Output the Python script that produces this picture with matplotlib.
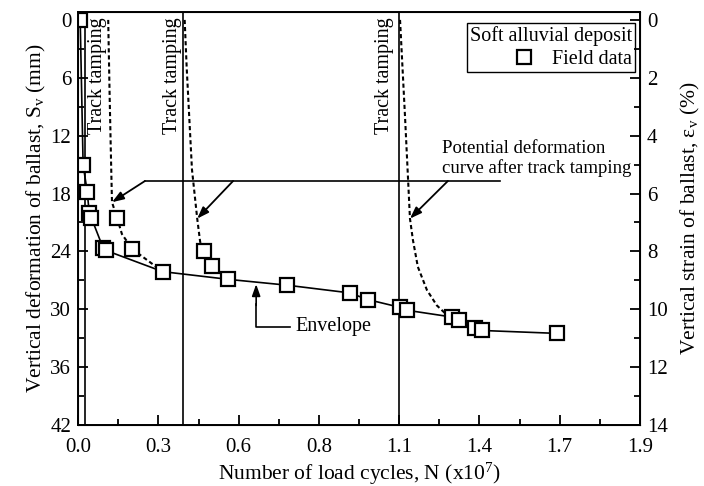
import numpy as np
import matplotlib
matplotlib.use("Agg")
import matplotlib.pyplot as plt
from matplotlib.ticker import FixedLocator, MultipleLocator

plt.rcParams["font.family"] = ["Liberation Serif", "DejaVu Serif"]
plt.rcParams["mathtext.fontset"] = "custom"
plt.rcParams["mathtext.rm"] = "Liberation Serif"
plt.rcParams["mathtext.it"] = "Liberation Serif:italic"

# ---------------------------------------------------------------------------
# Data (N in 1e7 cycles, Sv in mm)
# ---------------------------------------------------------------------------
field_n = [0.007, 0.017, 0.031, 0.038, 0.045, 0.085, 0.095, 0.133, 0.185, 0.29,
           0.432, 0.458, 0.515, 0.715, 0.93, 0.993, 1.103, 1.126, 1.28, 1.305,
           1.36, 1.385, 1.64]
field_sv = [0.0, 15.0, 17.8, 20.0, 20.5, 23.6, 23.9, 20.5, 23.75, 26.1,
            24.0, 25.5, 26.9, 27.5, 28.3, 29.0, 29.8, 30.1, 30.8, 31.1,
            31.9, 32.2, 32.5]

env_n = [0.007, 0.017, 0.031, 0.038, 0.045, 0.085, 0.095, 0.29, 0.515, 0.715,
         0.93, 0.993, 1.103, 1.126, 1.28, 1.305, 1.36, 1.385, 1.64]
env_sv = [0.0, 15.0, 17.8, 20.0, 20.5, 23.6, 23.9, 26.1, 26.9, 27.5,
          28.3, 29.0, 29.8, 30.1, 30.8, 31.1, 31.9, 32.2, 32.5]

# potential deformation curves after each tamping
pot1_n = [0.103, 0.108, 0.113, 0.116, 0.133, 0.15, 0.185, 0.29]
pot1_sv = [0.0, 8.0, 15.0, 18.9, 20.5, 22.2, 23.75, 26.1]
pot2_n = [0.365, 0.372, 0.39, 0.408, 0.418, 0.432]
pot2_sv = [0.0, 5.0, 15.5, 20.6, 23.0, 24.0]
pot3_n = [1.103, 1.12, 1.137, 1.147, 1.164, 1.195, 1.229, 1.264, 1.28]
pot3_sv = [0.0, 10.0, 20.6, 22.8, 25.6, 28.0, 29.6, 30.6, 30.8]

tamping_n = [0.024, 0.36, 1.099]
tamp_text_n = [0.068, 0.325, 1.051]
arrow_start_n = [0.229, 0.531, 1.267]
arrow_tip_n = [0.116, 0.408, 1.137]
arrow_tip_sv = [18.9, 20.6, 20.6]

x_ticks = [0.0, 0.275, 0.55, 0.825, 1.1, 1.375, 1.65, 1.925]
x_labels = ["0.0", "0.3", "0.6", "0.8", "1.1", "1.4", "1.7", "1.9"]

fig = plt.figure(figsize=(7.04, 4.86), dpi=100)
ax = fig.add_axes([0.111, 0.1255, 0.798, 0.850])

# vertical tamping lines
for xv in tamping_n:
    ax.axvline(xv, color="black", lw=1.2, zorder=1)

# envelope and potential curves
ax.plot(env_n, env_sv, color="black", lw=1.2, zorder=2)
for xs, ys in [(pot1_n, pot1_sv), (pot2_n, pot2_sv), (pot3_n, pot3_sv)]:
    ax.plot(xs, ys, color="black", lw=1.5, ls=(0, (2.0, 1.4)), zorder=2)

# field data
ax.plot(field_n, field_sv, ls="none", marker="s", ms=9.5, mfc="white",
        mec="black", mew=1.6, label="Field data", zorder=3)

# track tamping labels
for xt in tamp_text_n:
    ax.text(xt, -0.3, "Track tamping", rotation=90, ha="center", va="top",
            fontsize=14.5)

# potential deformation callout
y_call = 16.7
ax.plot([arrow_start_n[0], 1.445], [y_call, y_call], color="black", lw=1.2)
for xs, xt, yt in zip(arrow_start_n, arrow_tip_n, arrow_tip_sv):
    ax.annotate("", xy=(xt, yt), xytext=(xs, y_call),
                arrowprops=dict(arrowstyle="-|>,head_length=0.7,head_width=0.25",
                                color="black", lw=1.3, shrinkA=0, shrinkB=0))
ax.text(1.247, 16.3, "Potential deformation\ncurve after track tamping",
        ha="left", va="bottom", fontsize=13.5, linespacing=1.15)

# envelope callout
ax.plot([0.726, 0.61, 0.61], [31.8, 31.8, 29.5], color="black", lw=1.2)
ax.annotate("", xy=(0.61, 27.4), xytext=(0.61, 29.6),
            arrowprops=dict(arrowstyle="-|>,head_length=0.7,head_width=0.25",
                            color="black", lw=1.2, shrinkA=0, shrinkB=0))
ax.text(0.743, 31.8, "Envelope", ha="left", va="center", fontsize=14.5)

# axes
ax.set_xlim(0, 1.925)
ax.set_ylim(42, -0.83)
ax.xaxis.set_major_locator(FixedLocator(x_ticks))
ax.set_xticklabels(x_labels)
ax.xaxis.set_minor_locator(MultipleLocator(0.1375))
ax.yaxis.set_major_locator(MultipleLocator(6))
ax.yaxis.set_minor_locator(MultipleLocator(3))
ax.tick_params(which="both", direction="in", width=1.3, labelsize=15,
               top=False, right=False)
ax.tick_params(which="major", length=7)
ax.tick_params(which="minor", length=4)
ax.tick_params(axis="x", pad=9)
ax.tick_params(axis="y", pad=5)
ax.set_xlabel("Number of load cycles, N (x10$^7$)", fontsize=15.5, labelpad=3)
ax.set_ylabel("Vertical deformation of ballast, S$_\\mathrm{v}$ (mm)",
              fontsize=15.5, labelpad=2)
for sp in ax.spines.values():
    sp.set_linewidth(1.4)

ax2 = ax.twinx()
ax2.set_ylim(14, -0.83 / 3)
ax2.yaxis.set_major_locator(MultipleLocator(2))
ax2.yaxis.set_minor_locator(MultipleLocator(1))
ax2.tick_params(which="both", direction="in", width=1.3, labelsize=15, pad=5)
ax2.tick_params(which="major", length=7)
ax2.tick_params(which="minor", length=4)
ax2.set_ylabel("Vertical strain of ballast, \u03b5$_\\mathrm{v}$ (%)",
               fontsize=15.5, labelpad=8)

leg = ax.legend(loc="upper right", bbox_to_anchor=(0.991, 0.973),
                borderaxespad=0, title="Soft alluvial deposit",
                fontsize=14.5, title_fontsize=14.5, frameon=True, fancybox=False,
                edgecolor="black", framealpha=1, handletextpad=0.8,
                borderpad=0.15, handlelength=1.2, labelspacing=0.2)
leg.get_frame().set_linewidth(1.0)
leg._legend_box.align = "right"

fig.savefig("out.png", dpi=100)
